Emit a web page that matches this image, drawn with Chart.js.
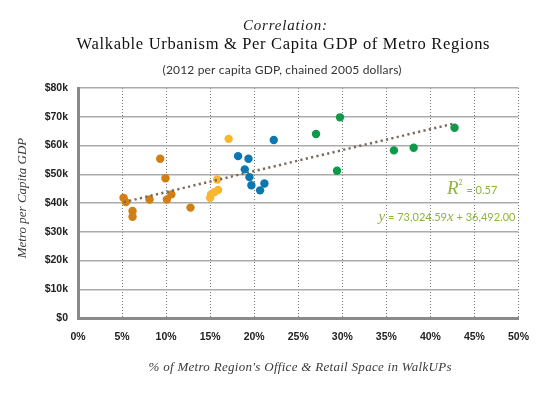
<!DOCTYPE html>
<html>
<head>
<meta charset="utf-8">
<script src="https://cdn.jsdelivr.net/npm/chart.js@4.4.0/dist/chart.umd.min.js"></script>
<style>
html,body{margin:0;padding:0;background:#fff;}
#wrap{width:546px;height:395px;position:relative;}
</style>
</head>
<body>
<div id="wrap"><canvas id="c"></canvas></div>
<script>
// ---- Data ----
const xTickLabels = ['0%','5%','10%','15%','20%','25%','30%','35%','40%','45%','50%'];
const yTickLabels = ['$0','$10k','$20k','$30k','$40k','$50k','$60k','$70k','$80k'];

const orangeX = [5.17, 5.44, 6.19, 6.19, 8.12, 9.33, 9.93, 10.09, 10.6, 12.77];
const orangeY = [41800, 40300, 37200, 35200, 41200, 55400, 48600, 41200, 43000, 38400];

const yellowX = [15.0, 15.1, 15.5, 15.9, 15.8, 17.1];
const yellowY = [41800, 43000, 43800, 44500, 48200, 62300];

const blueX = [18.17, 19.35, 18.93, 19.46, 19.68, 20.67, 21.16, 22.22];
const blueY = [56300, 55400, 51700, 49000, 46200, 44400, 46800, 61900];

const greenX = [27.02, 29.74, 29.40, 35.86, 38.1, 42.74];
const greenY = [64000, 69800, 51200, 58300, 59200, 66200];

const trendX = [5.2, 42.5];
const trendY = [40290, 67530];

const titleText = 'Correlation:';
const mainTitle = 'Walkable Urbanism & Per Capita GDP of Metro Regions';
const subTitle = '(2012 per capita GDP, chained 2005 dollars)';
const xTitle = "% of Metro Region's Office & Retail Space in WalkUPs";
const yTitle = 'Metro per Capita GDP';
const r2Text = ['R', '2', ' = 0.57'];
const eqText = ['y', ' = 73,024.59', 'x', ' + 36,492.00'];

const pts = (xs, ys) => xs.map((x, i) => ({x: x, y: ys[i]}));

// ---- helpers ----
function spacedText(ctx, text, x, y, font, width, align) {
  ctx.save();
  ctx.font = font;
  ctx.letterSpacing = '0px';
  const w = ctx.measureText(text).width;
  const n = text.length;
  const ls = width ? Math.max(0, (width - w) / (n - 1)) : 0;
  ctx.letterSpacing = ls + 'px';
  const total = w + ls * (n - 1);
  let sx = x;
  if (align === 'center') sx = x - total / 2;
  else if (align === 'right') sx = x - total;
  ctx.textAlign = 'left';
  ctx.fillText(text, sx, y);
  ctx.restore();
}

const annot = {
  id: 'annot',
  afterDraw(chart) {
    const ctx = chart.ctx;
    const xs = chart.scales.x, ys = chart.scales.y;
    ctx.save();
    ctx.textBaseline = 'alphabetic';
    ctx.fillStyle = '#1a1a1a';
    spacedText(ctx, titleText, 285, 30, 'italic 15px "Liberation Serif"', 84, 'center');
    ctx.fillStyle = '#111';
    spacedText(ctx, mainTitle, 283, 48.5, '16.5px "Liberation Serif"', 413, 'center');
    ctx.fillStyle = '#333';
    spacedText(ctx, subTitle, 282, 74, '12px "Lato"', 239, 'center');

    // axis titles
    ctx.fillStyle = '#3a3a3a';
    spacedText(ctx, xTitle, 300, 371, 'italic 13px "Liberation Serif"', 303, 'center');
    ctx.save();
    ctx.translate(26, 198);
    ctx.rotate(-Math.PI / 2);
    spacedText(ctx, yTitle, 0, 0, 'italic 13px "Liberation Serif"', 115, 'center');
    ctx.restore();

    // R^2 annotation
    ctx.fillStyle = '#8db53c';
    const rx = xs.getPixelForValue(47.6), ry = ys.getPixelForValue(43100);
    ctx.font = '11px "Lato"';
    const w3 = ctx.measureText(r2Text[2]).width;
    ctx.font = 'italic 19px "Liberation Serif"';
    const w1 = ctx.measureText(r2Text[0]).width;
    ctx.font = '7px "Lato"';
    const w2 = ctx.measureText(r2Text[1]).width;
    let cx = rx - w3 - w2 - w1 - 1;
    ctx.font = 'italic 19px "Liberation Serif"';
    ctx.fillText(r2Text[0], cx, ry); cx += w1;
    ctx.font = '7px "Lato"';
    ctx.fillText(r2Text[1], cx, ry - 9); cx += w2 + 1;
    ctx.font = '11px "Lato"';
    ctx.fillText(r2Text[2], cx, ry);

    // equation
    const ex = xs.getPixelForValue(49.65), ey = ys.getPixelForValue(33900);
    const fonts = ['italic 15px "Liberation Serif"', '11px "Lato"', 'italic 15px "Liberation Serif"', '11px "Lato"'];
    const widths = eqText.map((t, i) => { ctx.font = fonts[i]; return ctx.measureText(t).width; });
    let tx = ex - widths.reduce((a, b) => a + b, 0);
    eqText.forEach((t, i) => { ctx.font = fonts[i]; ctx.fillText(t, tx, ey); tx += widths[i]; });
    ctx.restore();
  }
};

const dotR = 4.2;
new Chart(document.getElementById('c'), {
  type: 'scatter',
  data: {
    datasets: [
      {type: 'line', data: pts(trendX, trendY), borderColor: '#7b6a5a', borderWidth: 2.5,
       borderDash: [2.2, 3.3], pointRadius: 0, fill: false, tension: 0},
      {data: pts(orangeX, orangeY), backgroundColor: '#d17f12', pointRadius: dotR, borderWidth: 0},
      {data: pts(yellowX, yellowY), backgroundColor: '#fbb630', pointRadius: dotR, borderWidth: 0},
      {data: pts(blueX, blueY), backgroundColor: '#0c78b2', pointRadius: dotR, borderWidth: 0},
      {data: pts(greenX, greenY), backgroundColor: '#0f994a', pointRadius: dotR, borderWidth: 0}
    ]
  },
  options: {
    responsive: true,
    maintainAspectRatio: false,
    animation: false,
    layout: {padding: {top: 88, right: 27.5, left: 0, bottom: 0}},
    plugins: {legend: {display: false}, tooltip: {enabled: false}, title: {display: false}},
    scales: {
      x: {
        type: 'linear', min: 0, max: 50,
        afterFit: s => { s.height = 77; },
        ticks: {stepSize: 5, padding: 13, color: '#222',
          font: {family: '"Liberation Sans"', size: 10.5, weight: 'bold'},
          callback: (v, i) => xTickLabels[i]},
        grid: {color: '#777', lineWidth: 1, drawTicks: false},
        border: {color: '#8a8a8a', width: 3, dash: [1, 2]}
      },
      y: {
        type: 'linear', min: 0, max: 80000,
        afterFit: s => { s.width = 78; },
        ticks: {stepSize: 10000, padding: 10, color: '#222',
          font: {family: '"Liberation Sans"', size: 10.5, weight: 'bold'},
          callback: (v, i) => yTickLabels[i]},
        grid: {color: '#ababab', lineWidth: 1.4, drawTicks: false},
        border: {color: '#8a8a8a', width: 3}
      }
    }
  },
  plugins: [annot]
});
</script>
</body>
</html>
